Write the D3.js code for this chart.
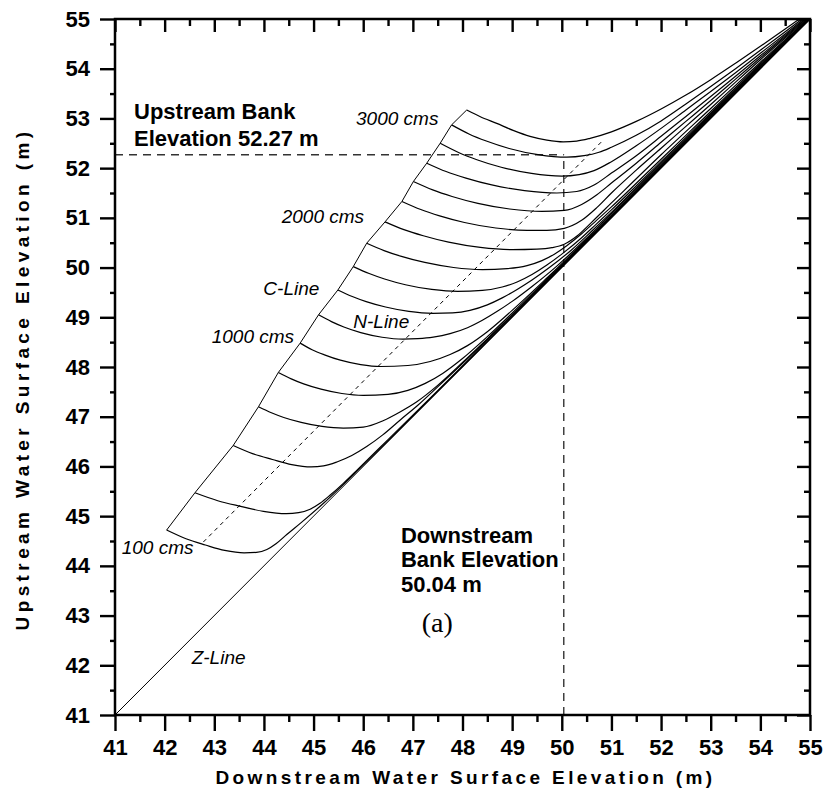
<!DOCTYPE html>
<html>
<head>
<meta charset="utf-8">
<script src="https://cdn.jsdelivr.net/npm/d3@7"></script>
<style>
  html, body { margin: 0; padding: 0; background: #fff; }
  svg { display: block; font-family: "Liberation Sans", Arial, sans-serif; }
</style>
</head>
<body>
<svg id="chart" width="828" height="793"></svg>
<script>
// Family of rating curves: each point is [downstream WSE (m), upstream WSE (m)].
// The first point of every curve lies on the critical-flow (C) line.
const flows = [100, 200, 400, 600, 800, 1000, 1200, 1400, 1600, 1800, 2000, 2200, 2400, 2600, 2800, 3000, 3200];

const q100 = [[42.04,44.72],[42.43,44.545],[42.82,44.42],[43.21,44.31],[43.60,44.26],[43.85,44.27],[44.06,44.33],[44.25,44.45],[44.46,44.63],[44.75,44.87],[45.2,45.26],[46,46.025],[47,47.012],[48.5,48.508],[52,52.004],[55,55.001]];
const q200 = [[42.61,45.47],[43.07,45.31],[43.53,45.197],[43.99,45.096],[44.45,45.05],[44.7,45.07],[44.93,45.14],[45.13,45.26],[45.33,45.42],[45.6,45.66],[45.9,45.95],[46.5,46.54],[47.5,47.525],[49,49.018],[52,52.012],[55,55.003]];
const q400 = [[43.38,46.42],[43.77,46.257],[44.17,46.14],[44.56,46.037],[44.95,45.99],[45.2,46.01],[45.47,46.09],[45.77,46.22],[46.07,46.40],[46.4,46.64],[46.74,46.93],[47.1,47.23],[47.5,47.60],[48.2,48.26],[49.2,49.24],[50.5,50.53],[52,52.02],[54,54.012],[55,55.004]];
const q600 = [[43.89,47.20],[44.15,47.08],[44.40,46.985],[44.75,46.886],[45.17,46.804],[45.6,46.77],[46.0,46.79],[46.4,46.92],[46.75,47.10],[47.08,47.30],[47.5,47.63],[48.0,48.09],[48.7,48.76],[49.6,49.645],[51,51.03],[52,52.028],[54,54.018],[55,55.006]];
const q800 = [[44.29,47.89],[44.55,47.761],[44.80,47.66],[45.15,47.554],[45.57,47.467],[46.0,47.43],[46.5,47.45],[46.9,47.53],[47.25,47.67],[47.6,47.87],[48.0,48.17],[48.5,48.61],[49.2,49.28],[50.2,50.25],[52,52.04],[54,54.025],[55,55.008]];
const q1000 = [[44.73,48.48],[44.97,48.348],[45.22,48.245],[45.54,48.137],[45.95,48.048],[46.35,48.01],[46.9,48.03],[47.35,48.11],[47.75,48.25],[48.1,48.43],[48.5,48.71],[49.0,49.14],[49.7,49.79],[50.6,50.66],[52,52.055],[54,54.035],[55,55.01]];
const q1200 = [[45.10,49.05],[45.36,48.913],[45.61,48.805],[45.95,48.692],[46.38,48.599],[46.8,48.56],[47.1,48.57],[47.41,48.60],[47.75,48.67],[48.1,48.79],[48.4,48.94],[48.7,49.12],[49.0,49.32],[49.4,49.62],[49.9,50.03],[50.5,50.59],[51,51.085],[52,52.075],[53,53.06],[54,54.045],[55,55.015]];
const q1400 = [[45.49,49.55],[45.78,49.418],[46.06,49.315],[46.45,49.207],[46.92,49.118],[47.4,49.08],[47.8,49.09],[48.15,49.14],[48.5,49.25],[48.8,49.39],[49.1,49.56],[49.4,49.75],[49.75,50.0],[50.2,50.36],[50.6,50.73],[51,51.11],[52,52.10],[53,53.08],[54,54.06],[55,55.02]];
const q1600 = [[45.80,50.02],[46.12,49.88],[46.43,49.77],[46.85,49.655],[47.38,49.56],[47.9,49.52],[48.4,49.54],[48.8,49.61],[49.1,49.71],[49.4,49.86],[49.7,50.05],[50.0,50.27],[50.4,50.60],[50.7,50.88],[51,51.16],[52,52.13],[53,53.105],[54,54.075],[55,55.025]];
const q1800 = [[46.07,50.49],[46.42,50.342],[46.77,50.225],[47.24,50.103],[47.82,50.002],[48.4,49.96],[48.9,49.98],[49.3,50.04],[49.6,50.14],[49.85,50.27],[50.1,50.44],[50.4,50.68],[50.7,50.95],[51,51.22],[52,52.18],[53,53.14],[54,54.10],[55,55.03]];
const q2000 = [[46.44,50.92],[46.82,50.763],[47.21,50.64],[47.72,50.511],[48.36,50.405],[49.0,50.36],[49.5,50.37],[49.8,50.40],[50.05,50.47],[50.3,50.63],[50.6,50.91],[51,51.30],[52,52.27],[53,53.20],[54,54.13],[55,55.04]];
const q2200 = [[46.78,51.33],[47.16,51.168],[47.54,51.04],[48.04,50.907],[48.67,50.796],[49.3,50.75],[49.7,50.75],[50.05,50.79],[50.4,50.95],[50.7,51.2],[51,51.50],[51.5,51.96],[52,52.40],[52.5,52.84],[53,53.28],[53.5,53.73],[54,54.18],[55,55.05]];
const q2400 = [[47.01,51.73],[47.40,51.562],[47.79,51.43],[48.31,51.292],[48.95,51.178],[49.6,51.13],[50.05,51.15],[50.4,51.27],[50.7,51.46],[51,51.70],[51.5,52.10],[52,52.52],[52.5,52.94],[53,53.36],[53.5,53.79],[54,54.22],[55,55.07]];
const q2600 = [[47.28,52.10],[47.67,51.932],[48.07,51.80],[48.59,51.662],[49.25,51.548],[49.9,51.50],[50.3,51.53],[50.65,51.66],[51,51.90],[51.5,52.25],[52,52.64],[52.5,53.04],[53,53.44],[53.5,53.85],[54,54.26],[54.5,54.67],[55,55.08]];
const q2800 = [[47.55,52.50],[47.92,52.315],[48.29,52.17],[48.78,52.018],[49.39,51.893],[50.0,51.84],[50.35,51.87],[50.65,51.95],[51,52.13],[51.5,52.45],[52,52.80],[52.5,53.17],[53,53.54],[53.5,53.92],[54,54.31],[54.5,54.70],[55,55.10]];
const q3000 = [[47.78,52.87],[48.13,52.688],[48.48,52.545],[48.94,52.396],[49.52,52.272],[50.1,52.22],[50.45,52.25],[50.75,52.32],[51,52.42],[51.5,52.66],[52,52.95],[52.5,53.29],[53,53.64],[53.5,54.00],[54,54.37],[54.5,54.745],[55,55.12]];
const q3200 = [[48.085,53.17],[48.35,53.04],[48.69,52.90],[49.02,52.76],[49.36,52.64],[49.7,52.565],[50.03,52.53],[50.3,52.545],[50.57,52.60],[51.0,52.73],[51.5,52.94],[52.0,53.19],[52.5,53.47],[53.0,53.78],[53.5,54.11],[54.0,54.45],[54.5,54.80],[55,55.15]];

const curves = [q100, q200, q400, q600, q800, q1000, q1200, q1400, q1600, q1800,
                q2000, q2200, q2400, q2600, q2800, q3000, q3200];

// Normal-depth (N) line and zero-flow (Z) line
const nLine = [[42.78, 44.48], [50.84, 52.57]];
const zLine = [[41, 41], [55, 55]];

// Bank elevations (m)
const upstreamBank = 52.27;
const downstreamBank = 50.04;

// Axis ticks
const majorTicks = [41, 42, 43, 44, 45, 46, 47, 48, 49, 50, 51, 52, 53, 54, 55];
const minorTicks = [41.5, 42.5, 43.5, 44.5, 45.5, 46.5, 47.5, 48.5, 49.5, 50.5, 51.5, 52.5, 53.5, 54.5];

const plot = { left: 115, right: 810, top: 19, bottom: 715 };

const svg = d3.select("#chart");
const x = d3.scaleLinear().domain([41, 55]).range([plot.left, plot.right]);
const y = d3.scaleLinear().domain([41, 55]).range([plot.bottom, plot.top]);

svg.append("defs").append("clipPath").attr("id", "plotClip")
  .append("rect")
  .attr("x", plot.left).attr("y", plot.top)
  .attr("width", plot.right - plot.left).attr("height", plot.bottom - plot.top);

const g = svg.append("g").attr("clip-path", "url(#plotClip)");

const smooth = d3.line().x(d => x(d[0])).y(d => y(d[1])).curve(d3.curveMonotoneX);
const straight = d3.line().x(d => x(d[0])).y(d => y(d[1]));

// Bank elevation guides
g.append("line")
  .attr("x1", x(41)).attr("x2", x(downstreamBank))
  .attr("y1", y(upstreamBank)).attr("y2", y(upstreamBank))
  .attr("stroke", "#333").attr("stroke-width", 1.4).attr("stroke-dasharray", "8,6");
g.append("line")
  .attr("x1", x(downstreamBank)).attr("x2", x(downstreamBank))
  .attr("y1", y(41)).attr("y2", y(upstreamBank))
  .attr("stroke", "#333").attr("stroke-width", 1.4).attr("stroke-dasharray", "8,6");

// Z-line
g.append("path").attr("d", straight(zLine))
  .attr("fill", "none").attr("stroke", "#000").attr("stroke-width", 1);

// N-line
g.append("path").attr("d", straight(nLine))
  .attr("fill", "none").attr("stroke", "#000").attr("stroke-width", 1)
  .attr("stroke-dasharray", "4,4");

// Rating curves
g.selectAll("path.rating").data(curves).enter().append("path")
  .attr("class", "rating")
  .attr("d", smooth)
  .attr("fill", "none").attr("stroke", "#000").attr("stroke-width", 1.2);

// C-line through the start of each curve
g.append("path").attr("d", straight(curves.map(c => c[0])))
  .attr("fill", "none").attr("stroke", "#000").attr("stroke-width", 1);

// Axes
function styleAxis(sel) {
  sel.select(".domain").remove();
  sel.selectAll(".tick line").attr("stroke", "#000").attr("stroke-width", 2.4);
  sel.selectAll(".tick text")
    .attr("fill", "#000")
    .style("font-family", "'Liberation Sans', Arial, sans-serif")
    .style("font-weight", "bold")
    .style("font-size", "22px");
}

svg.append("g").attr("transform", `translate(0,${plot.bottom})`)
  .call(d3.axisBottom(x).tickValues(majorTicks).tickSize(16).tickPadding(8).tickFormat(d3.format("d")))
  .call(styleAxis);
svg.append("g").attr("transform", `translate(0,${plot.bottom})`)
  .call(d3.axisBottom(x).tickValues(minorTicks).tickSize(7).tickFormat(""))
  .call(styleAxis);

svg.append("g").attr("transform", `translate(${plot.left},0)`)
  .call(d3.axisLeft(y).tickValues(majorTicks).tickSize(15).tickPadding(10).tickFormat(d3.format("d")))
  .call(styleAxis);
svg.append("g").attr("transform", `translate(${plot.left},0)`)
  .call(d3.axisLeft(y).tickValues(minorTicks).tickSize(5).tickFormat(""))
  .call(styleAxis);

svg.append("g").attr("transform", `translate(0,${plot.top})`)
  .call(d3.axisTop(x).tickValues(majorTicks).tickSize(-13).tickFormat(""))
  .call(styleAxis);
svg.append("g").attr("transform", `translate(0,${plot.top})`)
  .call(d3.axisTop(x).tickValues(minorTicks).tickSize(-7).tickFormat(""))
  .call(styleAxis);

svg.append("g").attr("transform", `translate(${plot.right},0)`)
  .call(d3.axisRight(y).tickValues(majorTicks).tickSize(-13).tickFormat(""))
  .call(styleAxis);
svg.append("g").attr("transform", `translate(${plot.right},0)`)
  .call(d3.axisRight(y).tickValues(minorTicks).tickSize(-6).tickFormat(""))
  .call(styleAxis);

// Frame
svg.append("rect")
  .attr("x", plot.left).attr("y", plot.top)
  .attr("width", plot.right - plot.left).attr("height", plot.bottom - plot.top)
  .attr("fill", "none").attr("stroke", "#000").attr("stroke-width", 2.5);

// Axis titles
svg.append("text")
  .attr("x", (plot.left + plot.right) / 2 + 3).attr("y", 784)
  .attr("text-anchor", "middle")
  .style("font-weight", "bold").style("font-size", "19px").style("letter-spacing", "3.4px")
  .text("Downstream Water Surface Elevation (m)");

svg.append("text")
  .attr("transform", "translate(29,379) rotate(-90)")
  .attr("text-anchor", "middle")
  .style("font-weight", "bold").style("font-size", "19px").style("letter-spacing", "4.4px")
  .text("Upstream Water Surface Elevation (m)");

// Curve annotations (italic)
const italicNotes = [
  { t: "3000 cms", x: 45.855, y: 52.869 },
  { t: "2000 cms", x: 44.358, y: 50.903 },
  { t: "C-Line",   x: 43.988, y: 49.449 },
  { t: "N-Line",   x: 45.80,  y: 48.791 },
  { t: "1000 cms", x: 42.948, y: 48.477 },
  { t: "100 cms",  x: 41.135, y: 44.239 },
  { t: "Z-Line",   x: 42.545, y: 42.026 }
];
svg.selectAll("text.note").data(italicNotes).enter().append("text")
  .attr("class", "note")
  .attr("x", d => x(d.x)).attr("y", d => y(d.y))
  .style("font-style", "italic").style("font-size", "19px")
  .text(d => d.t);

// Bank annotations (bold)
const boldNotes = [
  { t: "Upstream Bank",      x: 41.383, y: 52.983 },
  { t: "Elevation 52.27 m",  x: 41.383, y: 52.453 },
  { t: "Downstream",         x: 46.761, y: 44.466 },
  { t: "Bank Elevation",     x: 46.761, y: 43.983 },
  { t: "50.04 m",            x: 46.761, y: 43.480 }
];
svg.selectAll("text.bold").data(boldNotes).enter().append("text")
  .attr("class", "bold")
  .attr("x", d => x(d.x)).attr("y", d => y(d.y))
  .style("font-weight", "bold").style("font-size", "22px")
  .text(d => d.t);

// Panel tag
svg.append("text")
  .attr("x", x(47.178)).attr("y", y(42.67))
  .style("font-family", "'Liberation Serif', 'Times New Roman', serif")
  .style("font-size", "28px")
  .text("(a)");
</script>
</body>
</html>
